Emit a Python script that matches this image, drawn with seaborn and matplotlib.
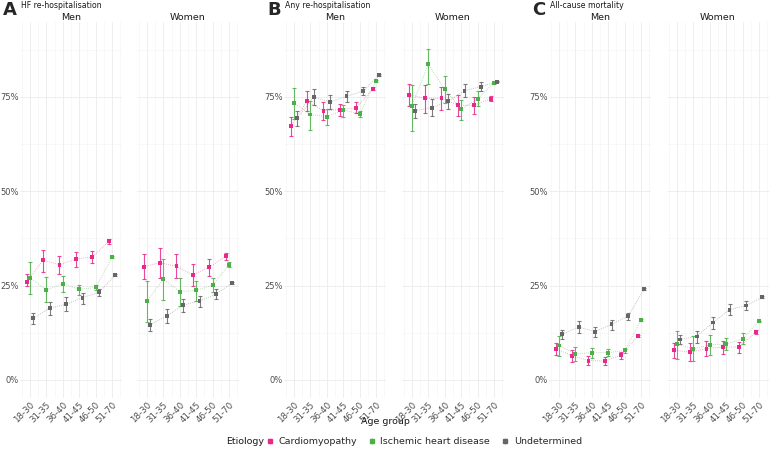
import numpy as np
import pandas as pd
import seaborn as sns
import matplotlib.pyplot as plt
from matplotlib.lines import Line2D
from matplotlib.legend_handler import HandlerTuple

# categorias y etiologias
age_groups = ["18-30", "31-35", "36-40", "41-45", "46-50", "51-70"]
etiologies = ["Cardiomyopathy", "Ischemic heart disease", "Undetermined"]
colors = ["#E7298A", "#4DAF4A", "#666666"]

# A - HF re-hospitalisation (filas: CM, IHD, UND)
hf_men_est = [[0.259, 0.317, 0.305, 0.320, 0.326, 0.367],
              [0.271, 0.238, 0.255, 0.240, 0.245, 0.325],
              [0.163, 0.190, 0.200, 0.218, 0.232, 0.278]]
hf_men_lo = [[0.248, 0.287, 0.281, 0.300, 0.310, 0.360],
             [0.227, 0.206, 0.234, 0.224, 0.238, 0.322],
             [0.147, 0.171, 0.183, 0.202, 0.222, 0.276]]
hf_men_hi = [[0.281, 0.345, 0.327, 0.338, 0.342, 0.374],
             [0.311, 0.272, 0.275, 0.252, 0.252, 0.328],
             [0.178, 0.207, 0.219, 0.230, 0.240, 0.280]]
hf_women_est = [[0.300, 0.310, 0.301, 0.278, 0.299, 0.327],
                [0.208, 0.267, 0.234, 0.237, 0.251, 0.305],
                [0.146, 0.169, 0.198, 0.209, 0.227, 0.257]]
hf_women_lo = [[0.267, 0.269, 0.269, 0.250, 0.274, 0.318],
               [0.153, 0.212, 0.196, 0.210, 0.232, 0.299],
               [0.130, 0.150, 0.179, 0.194, 0.215, 0.255]]
hf_women_hi = [[0.333, 0.349, 0.333, 0.306, 0.321, 0.335],
               [0.262, 0.320, 0.271, 0.262, 0.271, 0.311],
               [0.160, 0.187, 0.215, 0.222, 0.240, 0.259]]

# B - Any re-hospitalisation
any_men_est = [[0.672, 0.738, 0.713, 0.716, 0.721, 0.771],
               [0.734, 0.703, 0.697, 0.715, 0.705, 0.792],
               [0.693, 0.749, 0.736, 0.751, 0.765, 0.807]]
any_men_lo = [[0.645, 0.712, 0.689, 0.698, 0.707, 0.767],
              [0.690, 0.662, 0.674, 0.697, 0.697, 0.789],
              [0.673, 0.727, 0.718, 0.736, 0.754, 0.805]]
any_men_hi = [[0.696, 0.765, 0.735, 0.732, 0.735, 0.775],
              [0.773, 0.740, 0.717, 0.728, 0.712, 0.795],
              [0.712, 0.770, 0.754, 0.765, 0.777, 0.809]]
any_women_est = [[0.755, 0.746, 0.746, 0.728, 0.727, 0.745],
                 [0.726, 0.836, 0.770, 0.717, 0.745, 0.787],
                 [0.713, 0.721, 0.738, 0.766, 0.777, 0.790]]
any_women_lo = [[0.726, 0.706, 0.715, 0.699, 0.704, 0.738],
                [0.660, 0.784, 0.734, 0.689, 0.725, 0.783],
                [0.694, 0.699, 0.718, 0.749, 0.765, 0.788]]
any_women_hi = [[0.785, 0.780, 0.777, 0.755, 0.749, 0.752],
                [0.780, 0.876, 0.805, 0.742, 0.766, 0.791],
                [0.730, 0.743, 0.757, 0.783, 0.788, 0.792]]

# C - All-cause mortality
mort_men_est = [[0.083, 0.064, 0.051, 0.050, 0.066, 0.117],
                [0.091, 0.069, 0.072, 0.072, 0.078, 0.159],
                [0.121, 0.140, 0.128, 0.147, 0.169, 0.241]]
mort_men_lo = [[0.066, 0.048, 0.039, 0.040, 0.056, 0.114],
               [0.064, 0.050, 0.058, 0.062, 0.071, 0.157],
               [0.109, 0.124, 0.113, 0.132, 0.159, 0.239]]
mort_men_hi = [[0.097, 0.078, 0.062, 0.061, 0.075, 0.120],
               [0.115, 0.087, 0.084, 0.081, 0.083, 0.161],
               [0.132, 0.157, 0.141, 0.159, 0.178, 0.243]]
mort_women_est = [[0.079, 0.073, 0.083, 0.087, 0.087, 0.127],
                  [0.094, 0.082, 0.093, 0.095, 0.109, 0.155],
                  [0.107, 0.115, 0.152, 0.186, 0.197, 0.219]]
mort_women_lo = [[0.057, 0.050, 0.064, 0.068, 0.071, 0.122],
                 [0.055, 0.050, 0.066, 0.079, 0.095, 0.153],
                 [0.094, 0.099, 0.135, 0.171, 0.184, 0.217]]
mort_women_hi = [[0.097, 0.099, 0.103, 0.104, 0.101, 0.132],
                 [0.130, 0.115, 0.118, 0.112, 0.124, 0.157],
                 [0.120, 0.130, 0.167, 0.200, 0.208, 0.221]]

panels = [
    ("A", "HF re-hospitalisation",
     [("Men", hf_men_est, hf_men_lo, hf_men_hi), ("Women", hf_women_est, hf_women_lo, hf_women_hi)]),
    ("B", "Any re-hospitalisation",
     [("Men", any_men_est, any_men_lo, any_men_hi), ("Women", any_women_est, any_women_lo, any_women_hi)]),
    ("C", "All-cause mortality",
     [("Men", mort_men_est, mort_men_lo, mort_men_hi), ("Women", mort_women_est, mort_women_lo, mort_women_hi)]),
]

sns.set_style("white")
plt.rcParams['font.family'] = ['DejaVu Sans']

W, H = 770, 451
fig = plt.figure(figsize=(W / 100, H / 100), dpi=100)

ax_left_px = [20, 137, 284, 402, 549, 667]
ax_w_px = 102
ax_top_px, ax_bot_px = 22, 398
dodge = [-0.2, 0.0, 0.2]
txt_grey = "#4D4D4D"
txt_dark = "#1A1A1A"

k = 0
for letter, title, facets in panels:
    for j, (sex, est, lo, hi) in enumerate(facets):
        left = ax_left_px[k]
        ax = fig.add_axes([left / W, 1 - ax_bot_px / H, ax_w_px / W, (ax_bot_px - ax_top_px) / H])
        k += 1

        rows = []
        for e, etio in enumerate(etiologies):
            for i in range(len(age_groups)):
                rows.append({"xpos": i + dodge[e], "est": est[e][i], "lo": lo[e][i],
                             "hi": hi[e][i], "Etiology": etio})
        df = pd.DataFrame(rows)
        pal = dict(zip(etiologies, colors))

        # lineas punteadas
        sns.lineplot(data=df, x="xpos", y="est", hue="Etiology", palette=pal, ax=ax,
                     linestyle=(0, (1, 1.5)), linewidth=0.6, alpha=0.5, legend=False, zorder=2)
        for e, etio in enumerate(etiologies):
            d = df[df["Etiology"] == etio]
            ax.errorbar(d["xpos"], d["est"], yerr=[d["est"] - d["lo"], d["hi"] - d["est"]],
                        fmt="none", ecolor=colors[e], elinewidth=0.8, capsize=1.4,
                        capthick=0.8, alpha=0.85, zorder=3)
        sns.scatterplot(data=df, x="xpos", y="est", hue="Etiology", palette=pal, ax=ax,
                        marker="s", s=8, linewidth=0, legend=False, zorder=4)

        ax.set_xlim(-0.6, 5.6)
        ax.set_ylim(-0.048, 0.948)
        ax.set_xticks(range(6))
        ax.set_xticks(np.arange(-0.5, 6, 1), minor=True)
        ax.set_xticklabels(age_groups, rotation=45, ha="right", rotation_mode="anchor",
                           fontsize=6.2, color=txt_grey)
        ax.set_yticks([0, 0.25, 0.5, 0.75])
        ax.set_yticks([0.125, 0.375, 0.625, 0.875], minor=True)
        if j == 0:
            ax.set_yticklabels(["0%", "25%", "50%", "75%"], fontsize=6.0, color=txt_grey)
        else:
            ax.set_yticklabels([])
        ax.tick_params(axis="both", which="both", length=0, pad=1.5)
        ax.tick_params(axis="y", pad=1.0)
        ax.grid(True, which="major", color="#EBEBEB", linewidth=0.6)
        ax.grid(True, which="minor", color="#F3F3F3", linewidth=0.4)
        ax.set_axisbelow(True)
        for s in ax.spines.values():
            s.set_visible(False)
        ax.set_xlabel("")
        ax.set_ylabel("")
        ax.set_title(sex, fontsize=6.8, color=txt_dark, pad=1.5)

        if j == 0:
            fig.text((left - 17) / W, 1 - 10 / H, letter, fontsize=13, fontweight="bold",
                     va="center", ha="left")
            fig.text((left + 1) / W, 1 - 6 / H, title, fontsize=5.6, va="center", ha="left",
                     color=txt_dark)

fig.text(0.5, 1 - 421 / H, "Age group", ha="center", va="center", fontsize=6.8, color=txt_dark)

# leyenda abajo
fig.text(226 / W, 1 - 442 / H, "Etiology", ha="left", va="center", fontsize=6.8, color=txt_dark)
handles = []
for c in colors:
    bar = Line2D([], [], color=c, marker="|", markersize=5, linestyle="none",
                 markeredgewidth=0.7, alpha=0.6)
    pt = Line2D([], [], color=c, marker="s", markersize=2.6, linestyle="none")
    handles.append((bar, pt))
fig.legend(handles, etiologies, loc="center left", bbox_to_anchor=(264 / W, 1 - 442 / H),
           ncol=3, frameon=False, fontsize=6.8,
           handler_map={tuple: HandlerTuple(ndivide=1)}, handlelength=1.2,
           handletextpad=0.3, columnspacing=1.0, borderpad=0, borderaxespad=0)

fig.savefig("out.png", dpi=100)
